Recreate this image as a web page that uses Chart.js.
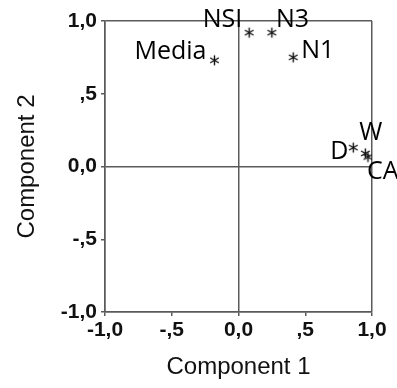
<!DOCTYPE html>
<html>
<head>
<meta charset="utf-8">
<script src="https://cdn.jsdelivr.net/npm/chart.js@4/dist/chart.umd.min.js"></script>
<style>
  html, body { margin: 0; padding: 0; background: #fff; }
  #wrap { width: 397px; height: 388px; }
</style>
</head>
<body>
<div id="wrap"><canvas id="myChart" width="397" height="388"></canvas></div>
<script>
// data
const names = ["Media", "NSI", "N3", "N1", "D", "W", "CA"];
const comp1 = [-0.18, 0.08, 0.25, 0.41, 0.86, 0.95, 0.97];
const comp2 = [0.73, 0.92, 0.92, 0.75, 0.13, 0.09, 0.065];
const tickValues = [-1, -0.5, 0, 0.5, 1];
const tickText = ["-1,0", "-,5", "0,0", ",5", "1,0"];

// where each name sits next to its star
const labelPos = {
  Media: { dx: -8, dy: -8, align: "right" },
  NSI: { dx: -7, dy: -13, align: "right" },
  N3: { dx: 4, dy: -13, align: "left" },
  N1: { dx: 8, dy: -7, align: "left" },
  D: { dx: -5, dy: 4, align: "right" },
  W: { dx: -6, dy: -21, align: "left" },
  CA: { dx: -1, dy: 15, align: "left" },
};

const lineColor = "#5a5a5a";

// 6 point asterisk marker
function makeStar() {
  const c = document.createElement("canvas");
  c.width = 13;
  c.height = 13;
  const g = c.getContext("2d");
  g.strokeStyle = "#111";
  g.lineWidth = 1.4;
  const r = 5;
  [90, 30, 150].forEach((a) => {
    const t = (a * Math.PI) / 180;
    g.beginPath();
    g.moveTo(6.5 - r * Math.cos(t), 6.5 - r * Math.sin(t));
    g.lineTo(6.5 + r * Math.cos(t), 6.5 + r * Math.sin(t));
    g.stroke();
  });
  return c;
}

const pointLabels = {
  id: "pointLabels",
  afterDatasetsDraw(chart) {
    const ctx = chart.ctx;
    const meta = chart.getDatasetMeta(0);
    ctx.save();
    ctx.font = '25px "Open Sans"';
    ctx.fillStyle = "#000";
    ctx.textBaseline = "middle";
    meta.data.forEach((pt, i) => {
      const p = labelPos[names[i]];
      ctx.textAlign = p.align;
      ctx.fillText(names[i], pt.x + p.dx, pt.y + p.dy);
    });
    ctx.restore();
  },
};

function gridColor(c) {
  const v = c.tick.value;
  return v === 0 || v === 1 || v === -1 ? lineColor : "rgba(0,0,0,0)";
}

const tickFont = { family: '"Liberation Sans", Arial', size: 21, weight: "bold" };
const titleFont = { family: '"Liberation Sans", Arial', size: 24 };

const points = names.map((n, i) => ({ x: comp1[i], y: comp2[i] }));

new Chart(document.getElementById("myChart"), {
  type: "scatter",
  data: {
    datasets: [
      {
        data: points,
        pointStyle: makeStar(),
        pointRadius: 6,
        pointHoverRadius: 6,
      },
    ],
  },
  options: {
    responsive: false,
    animation: false,
    layout: { padding: { left: 0, top: 21, right: 25, bottom: 0 } },
    plugins: { legend: { display: false }, tooltip: { enabled: false } },
    scales: {
      x: {
        type: "linear",
        min: -1,
        max: 1,
        afterBuildTicks: (s) => { s.ticks = tickValues.map((v) => ({ value: v })); },
        afterFit: (s) => { s.height = 76; },
        ticks: {
          color: "#111",
          font: tickFont,
          padding: 2,
          maxRotation: 0,
          callback: (v) => tickText[tickValues.indexOf(v)],
        },
        grid: { color: gridColor, lineWidth: 1.5, tickColor: lineColor, tickLength: 4 },
        border: { color: lineColor, width: 1.5 },
        title: {
          display: true,
          text: "Component 1",
          color: "#111",
          font: titleFont,
          padding: { top: 0, bottom: 6 },
        },
      },
      y: {
        type: "linear",
        min: -1,
        max: 1,
        afterBuildTicks: (s) => { s.ticks = tickValues.map((v) => ({ value: v })); },
        afterFit: (s) => { s.width = 105; },
        ticks: {
          color: "#111",
          font: tickFont,
          padding: 4,
          callback: (v) => tickText[tickValues.indexOf(v)],
        },
        grid: { color: gridColor, lineWidth: 1.5, tickColor: lineColor, tickLength: 4 },
        border: { color: lineColor, width: 1.5 },
        title: {
          display: true,
          text: "Component 2",
          color: "#111",
          font: titleFont,
          padding: { top: 13, bottom: 0 },
        },
      },
    },
  },
  plugins: [pointLabels],
});
</script>
</body>
</html>
